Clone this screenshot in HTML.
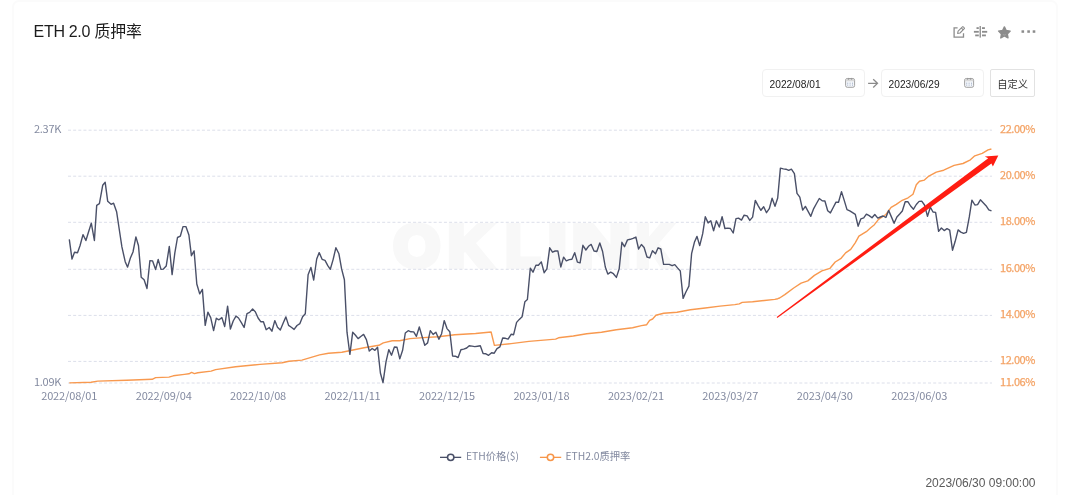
<!DOCTYPE html>
<html lang="zh-CN"><head><meta charset="utf-8"><title>ETH 2.0 质押率</title>
<style>
html,body{margin:0;padding:0;background:#fff;}
body{width:1080px;height:495px;overflow:hidden;position:relative;font-family:"Liberation Sans","Noto Sans CJK SC",sans-serif;}
.card{position:absolute;left:11.6px;top:-0.2px;width:1042.2px;height:520px;border:2px solid #fbfbfb;border-radius:7px;background:#fff;box-sizing:content-box;}
.title{position:absolute;left:33.6px;top:23.4px;font-size:16px;letter-spacing:-0.32px;line-height:18px;color:#1c1c1c;white-space:nowrap;}
.title .cj{font-size:15.9px;letter-spacing:-0.1px;margin-left:0.1px;}
.chart{position:absolute;left:0;top:0;}
.icons{position:absolute;left:945px;top:22px;}
.inp{position:absolute;top:69.15px;height:25.75px;width:100.8px;border:1px solid #f1f1f1;border-radius:4px;background:#fff;}
.inp span{position:absolute;left:6.5px;top:8.5px;font-size:10.2px;line-height:12px;color:#222;white-space:nowrap;}
.inp .cal{position:absolute;left:81px;top:6.85px;}
.arr{position:absolute;left:868px;top:78px;}
.btn{position:absolute;left:990.1px;top:69.2px;width:43.1px;height:25.7px;border:1px solid #e2e2e2;border-radius:2px;background:#fff;font-size:10.3px;line-height:25.7px;text-align:center;color:#333;font-family:"Liberation Sans","Noto Sans CJK SC",sans-serif;}
.btn span{position:relative;top:1.6px;}
.ts{position:absolute;right:44.5px;top:475.5px;font-size:12px;line-height:14px;color:#5a5a5a;white-space:nowrap;}
</style></head><body>
<div class="card"></div>
<div class="title">ETH 2.0<span class="cj"> 质押率</span></div>
<svg class="icons" width="100" height="20" viewBox="945 22 100 20">
<g fill="none" stroke="#8c8c8c" stroke-width="1.3">
<path d="M957.6 27.9H954.1v9.2h9.4V33.2"/>
<path d="M957.6 33.4l0.5-2.3 4.3-4.3a0.6 0.6 0 0 1 0.9 0l1.0 1.0a0.6 0.6 0 0 1 0 0.9l-4.3 4.3z M961.3 27.9l1.9 1.9" stroke-width="1.1" stroke-linejoin="round"/>
</g>
<g fill="#8c8c8c">
<rect x="979.55" y="26" width="1.35" height="11.6"/>
<rect x="976.5" y="27.2" width="2.3" height="1.8"/><rect x="973.9" y="30.9" width="4.9" height="1.8"/><rect x="975.2" y="34.5" width="3.6" height="1.8"/>
<rect x="982" y="27.2" width="2.9" height="1.8"/><rect x="982" y="30.9" width="5.2" height="1.8"/><rect x="982" y="34.5" width="3.9" height="1.8"/>
<polygon stroke="#8c8c8c" stroke-width="1.4" stroke-linejoin="round" points="1004.4,26.9 1006.2,30.5 1010.2,31.1 1007.3,33.9 1008,37.9 1004.4,36 1000.8,37.9 1001.5,33.9 998.6,31.1 1002.6,30.5"/>
<path d="M1002.9 34.6q1.5 0.9 3 0" fill="none" stroke="#b5b5b5" stroke-width="0.6"/>
<rect x="1021.5" y="30.3" width="2.6" height="2.5"/><rect x="1027.3" y="30.3" width="2.6" height="2.5"/><rect x="1032.7" y="30.3" width="2.6" height="2.5"/>
</g></svg>
<div class="inp" style="left:762.1px"><span>2022/08/01</span><svg class="cal" width="12" height="12" viewBox="0 0 12 12"><rect x="1.6" y="1.5" width="9" height="8.8" rx="1.7" fill="#f4f7fb" stroke="#a0a0a0" stroke-width="1"/><path d="M2.1 2h8v2.3h-8z" fill="#d9d9d9"/><rect x="3.9" y="0.9" width="1" height="1.9" fill="#9a9a9a"/><rect x="7.1" y="0.9" width="1" height="1.9" fill="#9a9a9a"/><g fill="#9fabc4"><rect x="3.2" y="5.7" width="1" height="1"/><rect x="5.6" y="5.7" width="1" height="1"/><rect x="8" y="5.7" width="1" height="1"/><rect x="3.2" y="7.6" width="1" height="1"/><rect x="5.6" y="7.6" width="1" height="1"/><rect x="8" y="7.6" width="1" height="1"/></g></svg></div>
<svg class="arr" width="11" height="11" viewBox="0 0 11 11"><path d="M0.1 5.35H9.2M5.2 1.2L9.5 5.35L5.2 9.5" fill="none" stroke="#8a8a8a" stroke-width="1.3"/></svg>
<div class="inp" style="left:881.1px"><span>2023/06/29</span><svg class="cal" width="12" height="12" viewBox="0 0 12 12"><rect x="1.6" y="1.5" width="9" height="8.8" rx="1.7" fill="#f4f7fb" stroke="#a0a0a0" stroke-width="1"/><path d="M2.1 2h8v2.3h-8z" fill="#d9d9d9"/><rect x="3.9" y="0.9" width="1" height="1.9" fill="#9a9a9a"/><rect x="7.1" y="0.9" width="1" height="1.9" fill="#9a9a9a"/><g fill="#9fabc4"><rect x="3.2" y="5.7" width="1" height="1"/><rect x="5.6" y="5.7" width="1" height="1"/><rect x="8" y="5.7" width="1" height="1"/><rect x="3.2" y="7.6" width="1" height="1"/><rect x="5.6" y="7.6" width="1" height="1"/><rect x="8" y="7.6" width="1" height="1"/></g></svg></div>
<div class="btn"><span>自定义</span></div>
<svg class="chart" width="1080" height="495" viewBox="0 0 1080 495">
<g class="wm" font-family="'Liberation Sans',sans-serif" font-weight="700" font-size="57" fill="#f8f8f8" stroke="#f8f8f8" stroke-width="6" stroke-linejoin="miter"><text transform="translate(393.7,266) scale(1.041,1.02)">O</text><text transform="translate(447.9,266) scale(1.053,1.02)">K</text><text transform="translate(505.8,266) scale(0.977,1.02)">L</text><text transform="translate(548.2,266) scale(1.143,1.02)">I</text><text transform="translate(571.9,266) scale(1.423,1.02)">N</text><text transform="translate(636.1,266) scale(0.867,1.02)">K</text></g>
<line x1="68" x2="992" y1="130.2" y2="130.2" stroke="#dcdfea" stroke-width="1" stroke-dasharray="3 2.15"/>
<line x1="68" x2="992" y1="176.2" y2="176.2" stroke="#dcdfea" stroke-width="1" stroke-dasharray="3 2.15"/>
<line x1="68" x2="992" y1="222.3" y2="222.3" stroke="#dcdfea" stroke-width="1" stroke-dasharray="3 2.15"/>
<line x1="68" x2="992" y1="269.3" y2="269.3" stroke="#dcdfea" stroke-width="1" stroke-dasharray="3 2.15"/>
<line x1="68" x2="992" y1="315.4" y2="315.4" stroke="#dcdfea" stroke-width="1" stroke-dasharray="3 2.15"/>
<line x1="68" x2="992" y1="361.4" y2="361.4" stroke="#dcdfea" stroke-width="1" stroke-dasharray="3 2.15"/>
<line x1="68" x2="992" y1="383.0" y2="383.0" stroke="#dcdfea" stroke-width="1" stroke-dasharray="3 2.15"/>
<g font-family='"Noto Sans CJK SC","Liberation Sans",sans-serif' font-size="11" fill="#838aa0">
<text x="61.2" y="133.1" text-anchor="end" letter-spacing="-0.25">2.37K</text>
<text x="61.2" y="385.9" text-anchor="end" letter-spacing="-0.25">1.09K</text>
<text x="69.2" y="400" text-anchor="middle" letter-spacing="-0.15">2022/08/01</text>
<text x="163.7" y="400" text-anchor="middle" letter-spacing="-0.15">2022/09/04</text>
<text x="258.1" y="400" text-anchor="middle" letter-spacing="-0.15">2022/10/08</text>
<text x="352.6" y="400" text-anchor="middle" letter-spacing="-0.15">2022/11/11</text>
<text x="447.0" y="400" text-anchor="middle" letter-spacing="-0.15">2022/12/15</text>
<text x="541.4" y="400" text-anchor="middle" letter-spacing="-0.15">2023/01/18</text>
<text x="635.9" y="400" text-anchor="middle" letter-spacing="-0.15">2023/02/21</text>
<text x="730.3" y="400" text-anchor="middle" letter-spacing="-0.15">2023/03/27</text>
<text x="824.8" y="400" text-anchor="middle" letter-spacing="-0.15">2023/04/30</text>
<text x="919.2" y="400" text-anchor="middle" letter-spacing="-0.15">2023/06/03</text>
</g>
<g font-family='"Noto Sans CJK SC","Liberation Sans",sans-serif' font-size="11" letter-spacing="-0.45" fill="#f4a365" stroke="#f4a365" stroke-width="0.25">
<text x="1000" y="133.2">22.00%</text>
<text x="1000" y="179.2">20.00%</text>
<text x="1000" y="225.3">18.00%</text>
<text x="1000" y="272.3">16.00%</text>
<text x="1000" y="318.4">14.00%</text>
<text x="1000" y="364.4">12.00%</text>
<text x="1000" y="386.0">11.06%</text>
</g>
<polyline fill="none" stroke="#f8994f" stroke-width="1.4" stroke-linejoin="round" points="69.3,382.9 91.1,382.2 97.8,381.1 126.7,380.2 152.2,379.3 155.6,377.6 168.9,377.1 173.3,375.8 184.4,374.4 188.9,373.8 191.6,372.4 194.4,373.6 197.8,372.7 211.1,371.1 215.6,369.6 235.6,366.7 260.0,364.4 282.2,362.7 288.9,361.3 301.9,360.1 319.6,354.9 328.5,353.3 341.9,352.2 349.3,350.7 364.1,347.8 378.9,345.3 383.3,342.9 392.2,340.8 399.6,340.7 410.0,338.6 423.3,337.6 438.1,336.7 454.8,334.7 475.6,333.5 491.1,332.0 494.4,345.4 511.1,343.6 528.9,341.4 555.6,339.1 558.5,337.8 573.3,336.0 586.7,333.7 601.5,332.2 616.3,329.7 632.6,327.8 641.5,325.6 646.7,324.7 649.6,320.3 652.6,319.0 655.9,315.3 663.7,313.3 677.0,312.2 690.4,309.8 705.2,308.0 720.0,306.1 734.8,304.6 739.3,303.9 742.2,302.4 752.6,301.7 764.4,300.5 774.8,299.4 777.8,298.7 779.6,298.0 784.8,294.6 793.7,288.0 801.1,283.2 807.8,280.9 814.4,275.4 821.9,270.9 830.0,268.3 835.2,262.0 841.1,258.3 845.6,252.9 850.7,249.4 855.2,242.8 858.9,236.1 866.3,231.7 870.7,227.7 874.4,224.7 878.5,219.3 885.9,214.5 891.1,207.4 896.3,204.4 902.2,200.3 908.1,197.8 913.0,194.2 916.3,184.8 919.5,181.3 924.4,180.1 928.9,176.1 936.3,172.1 943.7,170.2 954.1,165.4 963.0,163.5 970.4,159.8 974.8,155.8 982.2,153.4 988.1,149.9 991.4,149.0"/>
<polyline fill="none" stroke="#4a5068" stroke-width="1.4" stroke-linejoin="round" points="69.3,239.4 72.0,259.1 74.5,252.3 77.5,252.8 80.0,245.8 83.0,234.6 85.9,240.5 88.6,231.8 91.3,223.1 94.4,240.5 96.7,205.4 99.4,203.7 102.7,185.3 105.2,182.3 107.7,201.3 111.1,204.3 113.6,203.2 116.6,211.7 119.2,229.0 121.9,246.9 125.2,261.7 127.6,267.1 130.4,258.0 133.0,252.0 135.9,236.9 138.5,245.8 141.2,277.2 144.1,279.7 147.0,288.5 149.9,260.6 152.6,260.9 155.6,269.5 158.2,259.4 161.0,269.4 163.4,269.1 166.2,266.1 169.3,246.4 172.1,274.6 174.8,253.2 177.5,237.5 180.3,236.2 183.0,226.6 185.9,226.6 188.9,235.0 191.4,255.7 194.1,250.9 196.8,284.0 199.7,293.9 202.4,289.4 205.2,325.4 207.9,312.1 210.7,317.6 213.6,330.6 216.3,318.3 219.0,319.8 221.9,317.6 224.7,326.5 227.6,306.2 230.4,329.1 233.2,321.0 236.0,316.1 238.5,318.0 241.5,322.8 244.1,327.5 247.0,313.6 249.6,312.4 252.6,309.0 255.3,311.7 258.1,318.0 260.7,321.7 263.4,321.7 266.2,329.7 269.2,327.5 271.9,331.2 274.8,320.6 277.5,327.2 280.3,329.9 283.1,323.2 285.9,316.9 288.6,325.4 291.3,327.3 294.1,329.4 297.0,325.5 299.9,323.6 302.6,316.7 305.3,313.7 308.1,274.8 310.9,267.4 313.7,280.0 316.7,259.0 319.2,252.6 322.1,259.3 325.0,260.3 327.8,265.6 330.3,269.3 333.1,259.6 335.9,247.7 338.9,253.8 341.6,268.9 344.4,279.7 347.0,332.2 349.9,354.4 352.7,332.2 355.5,335.2 358.1,338.6 361.1,336.2 363.6,334.4 366.4,339.6 369.3,351.0 372.2,348.5 374.9,350.3 377.6,347.3 380.4,373.0 383.0,382.6 386.0,361.9 388.8,349.6 391.5,355.2 394.4,347.0 397.0,347.3 399.8,358.9 402.6,350.3 405.3,333.0 408.2,330.7 410.9,331.8 413.7,331.9 416.4,336.4 419.3,327.0 422.0,336.2 424.8,345.3 427.6,342.9 430.3,330.7 433.1,334.4 435.9,332.2 438.9,339.3 441.6,333.7 444.2,320.6 447.0,328.6 449.8,331.7 452.6,356.0 455.3,356.2 458.1,357.5 460.9,349.8 463.7,349.1 466.7,348.0 469.2,345.8 472.0,346.1 474.8,346.6 477.6,346.2 480.3,345.8 483.1,353.5 485.9,353.8 488.6,355.3 491.6,352.8 494.2,353.2 497.0,348.6 499.9,346.9 502.7,338.0 505.5,338.3 508.1,339.1 511.1,334.3 513.6,334.7 516.6,322.4 519.3,319.4 522.1,316.8 524.9,301.7 527.4,299.5 530.3,268.2 533.0,272.2 535.9,265.3 538.4,265.3 541.3,261.9 544.2,272.7 546.9,268.8 549.7,247.8 552.5,252.2 555.2,251.0 557.9,251.0 560.8,267.0 563.6,257.1 566.3,260.8 569.3,259.6 571.9,259.2 574.7,252.7 577.4,262.1 580.1,262.9 582.9,245.3 585.9,250.0 588.5,246.3 591.2,244.4 594.0,251.0 596.8,251.5 599.8,243.0 602.6,251.5 605.3,267.0 607.8,274.1 610.7,272.2 613.4,273.7 616.4,277.4 619.2,268.8 621.9,242.3 624.5,246.7 627.5,239.9 630.3,239.3 633.0,238.4 635.9,237.1 638.6,249.0 641.4,244.5 644.1,247.5 647.0,257.0 649.7,257.9 652.5,250.7 655.5,253.7 658.1,247.8 660.8,249.0 663.6,264.4 666.4,264.4 669.2,264.4 672.1,265.7 674.8,264.6 677.5,267.9 680.3,271.0 683.1,298.4 685.9,292.0 688.9,286.1 691.6,253.7 694.4,242.3 697.0,236.4 699.7,245.6 702.7,233.7 705.3,216.7 708.1,222.9 710.8,220.7 713.6,230.7 716.4,220.8 719.3,227.0 722.1,216.7 724.9,228.5 727.7,228.1 730.4,228.5 733.2,233.0 736.0,218.6 738.5,218.1 741.5,220.1 744.1,215.2 747.1,215.9 749.8,220.4 752.6,217.1 755.3,200.4 758.1,205.6 760.9,210.3 763.7,206.7 766.5,212.7 769.3,208.7 772.1,198.3 775.0,206.3 777.7,198.0 780.4,168.1 783.3,168.9 785.9,169.2 788.7,170.4 791.4,169.2 794.4,173.6 797.0,193.3 799.8,197.2 802.7,210.1 805.4,206.4 808.1,211.4 810.8,216.3 813.7,208.6 816.5,203.5 819.3,198.5 822.2,200.7 824.9,201.0 827.7,210.8 830.4,212.9 833.2,207.5 836.0,202.2 838.5,202.2 841.5,191.6 844.3,200.6 847.0,209.6 849.8,210.8 852.6,212.6 855.3,214.4 858.1,226.2 860.9,218.8 863.7,217.8 866.4,214.1 869.2,215.6 872.0,217.8 874.8,214.5 877.8,218.1 880.4,217.0 883.0,216.0 885.9,217.5 888.6,210.4 891.4,216.9 894.1,223.3 896.9,217.0 899.7,214.0 902.3,211.0 905.2,201.8 908.0,201.8 910.6,206.0 913.5,209.2 916.3,204.5 919.1,201.4 921.9,201.3 924.5,205.0 927.5,216.4 930.3,207.2 933.0,212.0 935.6,212.4 938.6,231.4 941.4,228.0 944.2,230.6 947.0,228.7 949.7,230.2 952.5,250.2 955.2,241.3 958.1,229.9 960.8,232.1 963.6,233.4 966.4,232.4 969.3,216.9 971.9,200.1 974.9,205.0 977.6,204.6 980.4,199.8 983.2,202.7 986.0,205.7 988.8,209.9 991.5,210.9"/>
<polygon fill="#ff1d12" points="776.7,317.1 988.2,158.2 984.8,156.5 998.3,155.4 992.9,166.5 991.4,163.4 777.3,317.9"/>
<g font-family='"Noto Sans CJK SC","Liberation Sans",sans-serif' font-size="10.3" fill="#838aa0">
<line x1="440" x2="461.2" y1="457.35" y2="457.35" stroke="#4a5068" stroke-width="1.3"/><circle cx="450.7" cy="457.35" r="3.2" fill="#fff" stroke="#4a5068" stroke-width="1.55"/>
<text x="466" y="460.4">ETH价格($)</text>
<line x1="539.9" x2="561.2" y1="457.35" y2="457.35" stroke="#f7964a" stroke-width="1.3"/><circle cx="550.5" cy="457.35" r="3.2" fill="#fff" stroke="#f7964a" stroke-width="1.55"/>
<text x="565.5" y="460.4">ETH2.0质押率</text>
</g>
</svg>
<div class="ts">2023/06/30 09:00:00</div>
</body></html>
